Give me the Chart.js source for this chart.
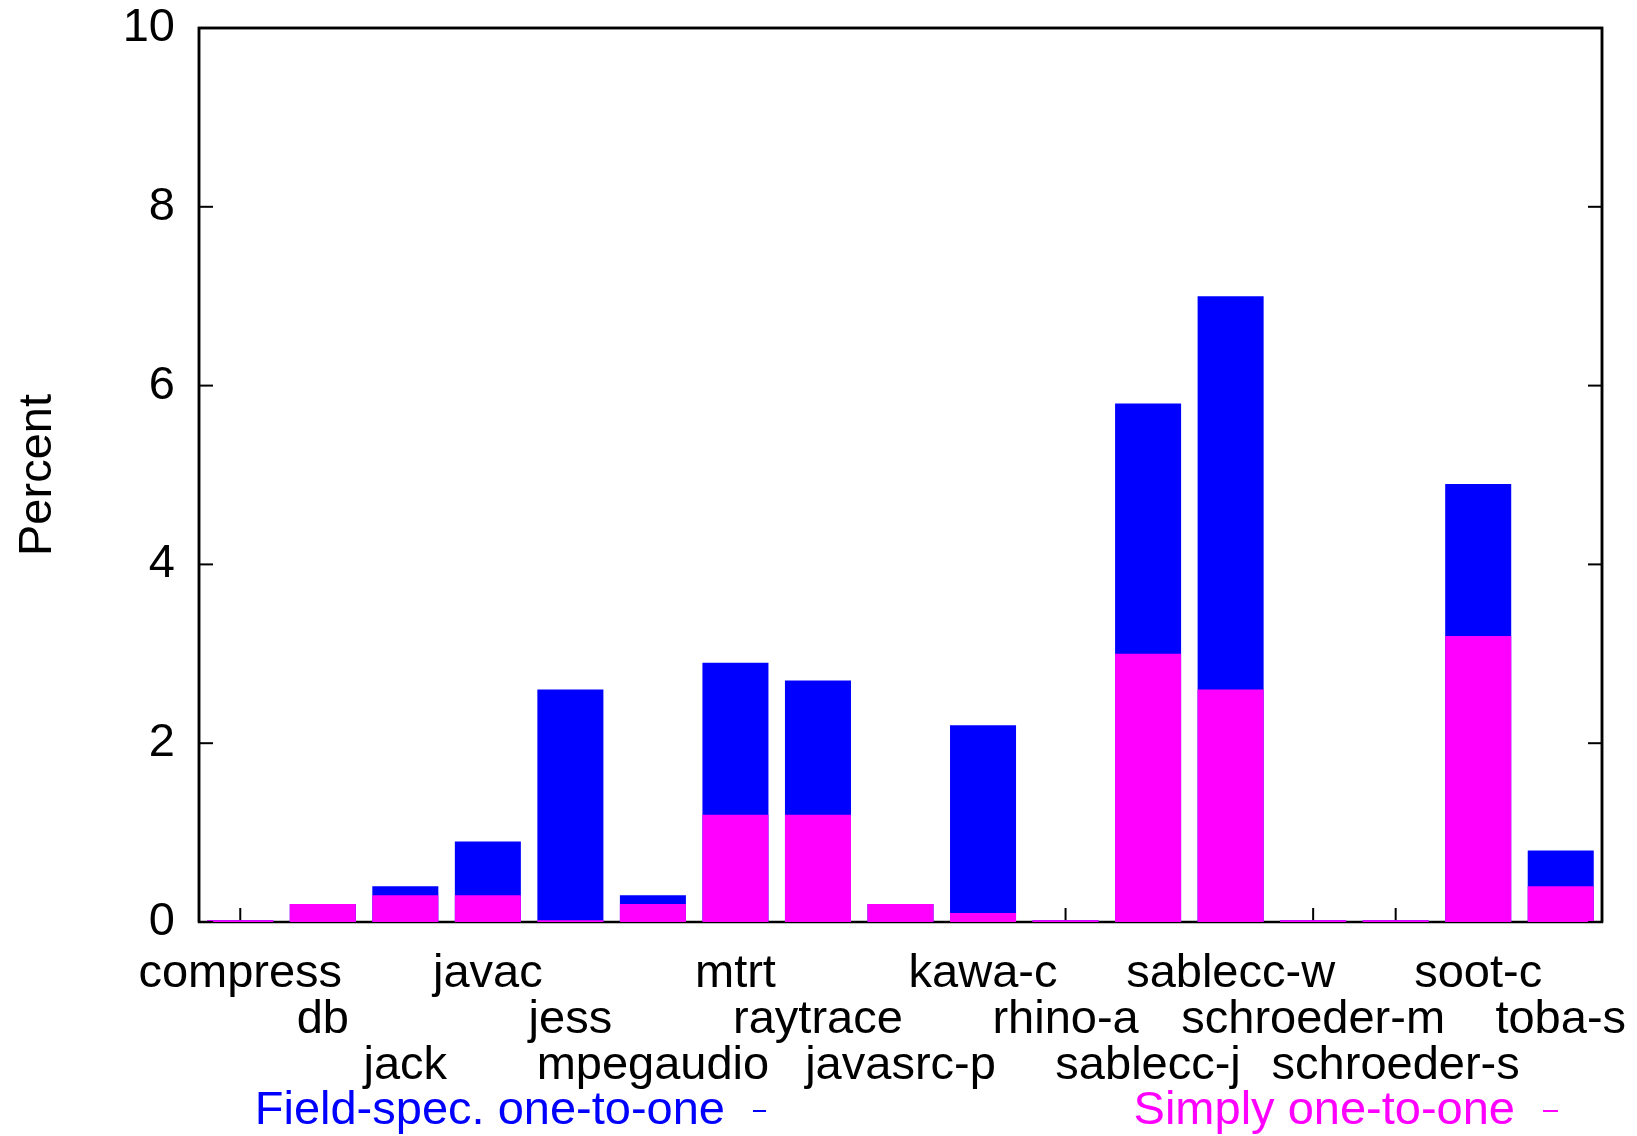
<!DOCTYPE html>
<html><head><meta charset="utf-8">
<script src="https://cdn.jsdelivr.net/npm/chart.js@4"></script>
<style>html,body{margin:0;padding:0;background:#fff}canvas{display:block}</style>
</head><body>
<canvas id="c" width="1637" height="1136"></canvas>
<script>
const categories = ['compress','db','jack','javac','jess','mpegaudio','mtrt','raytrace','javasrc-p','kawa-c','rhino-a','sablecc-j','sablecc-w','schroeder-m','schroeder-s','soot-c','toba-s'];
const fieldSpecOneToOne = [0.02,0.2,0.4,0.9,2.6,0.3,2.9,2.7,0.2,2.2,0.02,5.8,7.0,0.02,0.02,4.9,0.8];
const simplyOneToOne    = [0.02,0.2,0.3,0.3,0.02,0.2,1.2,1.2,0.2,0.1,0.02,3.0,2.6,0.02,0.02,3.2,0.4];
const yTicks = [0,2,4,6,8,10];
const seriesNames = ['Field-spec. one-to-one','Simply one-to-one'];
const yTitle = 'Percent';

const FONT = '"Liberation Sans", Arial, Helvetica, sans-serif';
const FS = 47;
Chart.defaults.font.family = FONT;
Chart.defaults.color = '#000';

const BLUE = '#0000ff', MAGENTA = '#ff00ff';

const staggered = categories.map((c, i) => Array(i % 3).fill('').concat([c]));

const frame = {
  id: 'frame',
  beforeDatasetsDraw(chart) {
    const {ctx, chartArea: a, scales: {x}} = chart;
    ctx.save();
    ctx.strokeStyle = '#000'; ctx.lineWidth = 2;
    categories.forEach((c, i) => {
      const px = x.getPixelForValue(i);
      ctx.beginPath(); ctx.moveTo(px, a.bottom); ctx.lineTo(px, a.bottom - 14); ctx.stroke();
    });
    ctx.lineWidth = 2.5;
    ctx.strokeRect(a.left, a.top, a.right - a.left, a.bottom - a.top);
    ctx.restore();
  },
  afterDatasetsDraw(chart) {
    const {ctx, chartArea: a, scales: {y}} = chart;
    ctx.save();
    ctx.strokeStyle = '#000'; ctx.lineWidth = 2;
    yTicks.forEach(v => {
      const py = y.getPixelForValue(v);
      ctx.beginPath(); ctx.moveTo(a.left, py); ctx.lineTo(a.left + 14, py); ctx.stroke();
      ctx.beginPath(); ctx.moveTo(a.right, py); ctx.lineTo(a.right - 14, py); ctx.stroke();
    });
    ctx.lineWidth = 2.5;
    ctx.beginPath();
    ctx.moveTo(a.left, a.bottom); ctx.lineTo(a.left, a.top); ctx.lineTo(a.right, a.top); ctx.lineTo(a.right, a.bottom);
    ctx.stroke();
    ctx.restore();
  },
  afterDraw(chart) {
    const {ctx} = chart;
    ctx.save();
    ctx.font = FS + 'px ' + FONT;
    ctx.textAlign = 'right';
    ctx.textBaseline = 'alphabetic';
    const items = [
      {text: seriesNames[0], color: BLUE, xEnd: 725, s0: 753, s1: 766},
      {text: seriesNames[1], color: MAGENTA, xEnd: 1515, s0: 1543, s1: 1558}
    ];
    items.forEach(it => {
      ctx.fillStyle = it.color;
      ctx.fillText(it.text, it.xEnd, 1124);
      ctx.strokeStyle = it.color; ctx.lineWidth = 2;
      ctx.beginPath(); ctx.moveTo(it.s0, 1111); ctx.lineTo(it.s1, 1111); ctx.stroke();
    });
    ctx.restore();
  }
};

new Chart(document.getElementById('c'), {
  type: 'bar',
  data: {
    labels: staggered,
    datasets: [
      {label: seriesNames[1], data: simplyOneToOne, backgroundColor: MAGENTA, order: 0,
       categoryPercentage: 1, barPercentage: 0.8, borderWidth: 0},
      {label: seriesNames[0], data: fieldSpecOneToOne, backgroundColor: BLUE, order: 1,
       categoryPercentage: 1, barPercentage: 0.8, borderWidth: 0}
    ]
  },
  options: {
    responsive: false,
    animation: false,
    devicePixelRatio: 1,
    layout: {padding: {top: 28, right: 35, left: 0, bottom: 0}},
    plugins: {legend: {display: false}, tooltip: {enabled: false}},
    scales: {
      x: {
        stacked: true,
        grid: {display: false},
        border: {display: false},
        ticks: {
          autoSkip: false, maxRotation: 0, minRotation: 0,
          font: {size: FS, lineHeight: 0.98}, color: '#000', padding: 21
        },
        afterFit(s) { s.height = 214; s.paddingLeft = 0; s.paddingRight = 0; }
      },
      y: {
        stacked: false,
        min: 0, max: 10,
        grid: {display: false},
        border: {display: false},
        afterBuildTicks(s) { s.ticks = yTicks.map(v => ({value: v})); },
        ticks: {font: {size: FS, lineHeight: 1}, color: '#000', padding: 16},
        title: {display: true, text: yTitle, font: {size: FS, lineHeight: 1}, color: '#000', padding: {top: 15, bottom: 0}},
        afterFit(s) { s.width = 199; s.paddingTop = 0; s.paddingBottom = 0; }
      }
    }
  },
  plugins: [frame]
});
</script>
</body></html>
